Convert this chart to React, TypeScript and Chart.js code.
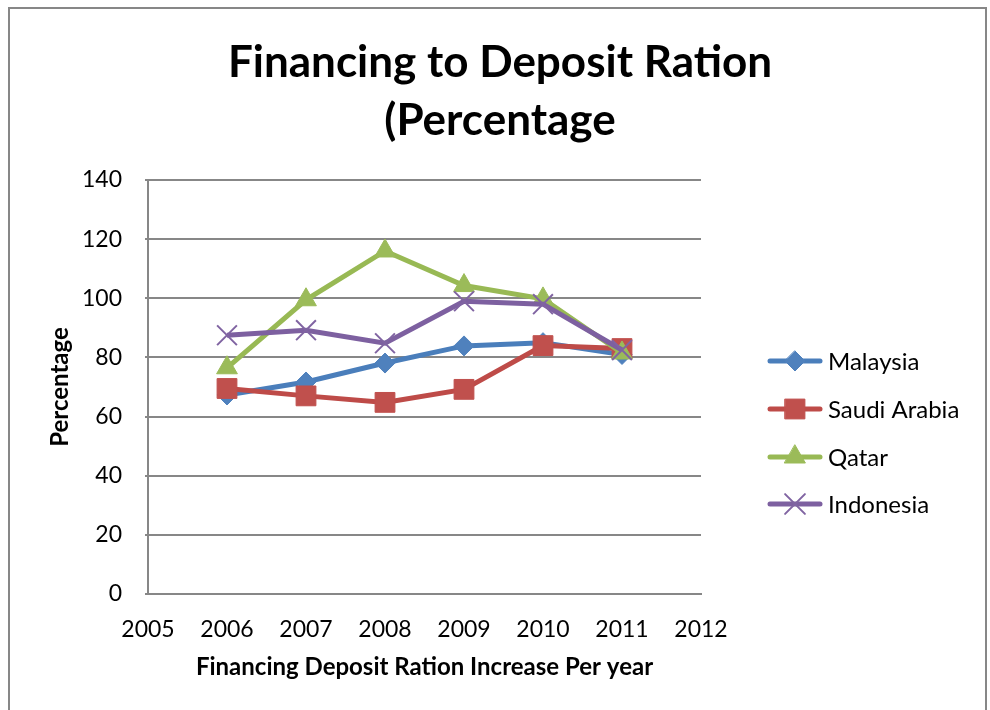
import React, { useEffect, useRef } from "react";
import { Chart, registerables } from "chart.js";

Chart.register(...registerables);

const years = [2006, 2007, 2008, 2009, 2010, 2011];
const malaysia = [67.3, 71.7, 78.1, 83.9, 85.0, 81.0];
const saudiArabia = [69.5, 67.0, 64.8, 69.2, 84.0, 83.0];
const qatar = [76.5, 99.5, 116.0, 104.3, 99.8, 81.5];
const indonesia = [87.5, 89.2, 84.8, 99.0, 98.0, 82.5];

const seriesNames = ["Malaysia", "Saudi Arabia", "Qatar", "Indonesia"];
const titleLines = ["Financing to Deposit Ration", "(Percentage"];
const xTitle = "Financing Deposit Ration Increase Per year";
const yTitle = "Percentage";

const FONT = "Lato, 'Open Sans', sans-serif";

function drawMarker(ctx: CanvasRenderingContext2D, style: string, x: number, y: number, r: number, fill: string, stroke: string, bw: number) {
  ctx.save();
  ctx.fillStyle = fill;
  ctx.strokeStyle = stroke;
  ctx.lineWidth = bw;
  ctx.beginPath();
  if (style === "rectRot") {
    ctx.moveTo(x, y - r);
    ctx.lineTo(x + r, y);
    ctx.lineTo(x, y + r);
    ctx.lineTo(x - r, y);
    ctx.closePath();
    ctx.fill();
    ctx.stroke();
  } else if (style === "rect") {
    const s = r * Math.SQRT1_2;
    ctx.rect(x - s, y - s, 2 * s, 2 * s);
    ctx.fill();
    ctx.stroke();
  } else if (style === "triangle") {
    const w = r * Math.sqrt(3) / 2;
    ctx.moveTo(x, y - r);
    ctx.lineTo(x + w, y + r / 2);
    ctx.lineTo(x - w, y + r / 2);
    ctx.closePath();
    ctx.fill();
    ctx.stroke();
  } else if (style === "crossRot") {
    const d = r * Math.SQRT1_2;
    ctx.moveTo(x - d, y - d);
    ctx.lineTo(x + d, y + d);
    ctx.moveTo(x + d, y - d);
    ctx.lineTo(x - d, y + d);
    ctx.stroke();
  }
  ctx.restore();
}

const decorPlugin = {
  id: "decor",
  afterDraw(chart: any) {
    const ctx = chart.ctx as CanvasRenderingContext2D;
    ctx.save();
    // title
    ctx.fillStyle = "#000";
    ctx.font = `bold 44px ${FONT}`;
    ctx.textAlign = "center";
    ctx.textBaseline = "alphabetic";
    ctx.fillText(titleLines[0], 500, 77);
    ctx.fillText(titleLines[1], 500, 135);
    // legend
    const ys = [361, 409, 457, 504];
    chart.data.datasets.forEach((ds: any, i: number) => {
      const y = ys[i];
      ctx.strokeStyle = ds.borderColor;
      ctx.lineWidth = ds.borderWidth;
      ctx.lineCap = "round";
      ctx.beginPath();
      ctx.moveTo(770, y);
      ctx.lineTo(820, y);
      ctx.stroke();
      drawMarker(ctx, ds.pointStyle, 795, y, ds.pointRadius, ds.pointBackgroundColor, ds.pointBorderColor, ds.pointBorderWidth);
      ctx.fillStyle = "#000";
      ctx.font = `24px ${FONT}`;
      ctx.textAlign = "left";
      ctx.textBaseline = "middle";
      ctx.fillText(ds.label, 828, y + 1);
    });
    ctx.restore();
  },
};

export default function App() {
  const ref = useRef<HTMLCanvasElement | null>(null);
  useEffect(() => {
    if (!ref.current) return;
    const mk = (vals: number[]) => vals.map((v, i) => ({ x: years[i], y: v }));
    const chart = new Chart(ref.current, {
      type: "line",
      data: {
        datasets: [
          {
            label: seriesNames[0],
            data: mk(malaysia),
            borderColor: "#4A7EBB",
            borderWidth: 5,
            pointStyle: "rectRot",
            pointRadius: 10,
            pointBackgroundColor: "#4F81BD",
            pointBorderColor: "#4F81BD",
            pointBorderWidth: 1,
            order: 4,
          },
          {
            label: seriesNames[1],
            data: mk(saudiArabia),
            borderColor: "#BE4B48",
            borderWidth: 5,
            pointStyle: "rect",
            pointRadius: 14,
            pointBackgroundColor: "#C0504D",
            pointBorderColor: "#C0504D",
            pointBorderWidth: 1,
            order: 3,
          },
          {
            label: seriesNames[2],
            data: mk(qatar),
            borderColor: "#98B954",
            borderWidth: 5,
            pointStyle: "triangle",
            pointRadius: 12,
            pointBackgroundColor: "#9BBB59",
            pointBorderColor: "#9BBB59",
            pointBorderWidth: 1,
            order: 2,
          },
          {
            label: seriesNames[3],
            data: mk(indonesia),
            borderColor: "#7D60A0",
            borderWidth: 5,
            pointStyle: "crossRot",
            pointRadius: 14,
            pointBackgroundColor: "#8064A2",
            pointBorderColor: "#8064A2",
            pointBorderWidth: 2,
            order: 1,
          },
        ] as any,
      },
      options: {
        animation: false,
        responsive: false,
        devicePixelRatio: 1,
        layout: { padding: { left: 40, top: 180, right: 289, bottom: 16 } },
        plugins: { legend: { display: false }, title: { display: false }, tooltip: { enabled: false } },
        elements: { line: { tension: 0 } },
        scales: {
          x: {
            type: "linear",
            min: 2005,
            max: 2012,
            ticks: { stepSize: 1, padding: 14, color: "#000", font: { family: FONT, size: 23 }, callback: (v: any) => String(v) },
            grid: { display: false },
            border: { display: true, color: "#878787", width: 2 },
            title: { display: true, text: xTitle, color: "#000", font: { family: FONT, size: 24, weight: "bold" }, padding: { top: 0, bottom: 12 } },
            afterFit: (s: any) => { s.height = 100; },
          },
          y: {
            min: 0,
            max: 140,
            ticks: { stepSize: 20, padding: 23, color: "#000", font: { family: FONT, size: 23 } },
            grid: { color: "#878787", lineWidth: 2, tickLength: 3 },
            border: { display: true, color: "#878787", width: 2 },
            title: { display: true, text: yTitle, color: "#000", font: { family: FONT, size: 24, weight: "bold" }, padding: { top: 6, bottom: 0 } },
            afterFit: (s: any) => { s.width = 108; },
          },
        },
      } as any,
      plugins: [decorPlugin],
    });
    return () => chart.destroy();
  }, []);
  return (
    <div style={{ position: "absolute", left: 0, top: 0, width: 990, height: 710, overflow: "hidden", background: "#fff" }}>
      <canvas ref={ref} width={990} height={710} style={{ position: "absolute", left: 0, top: 0, width: 990, height: 710 }} />
      <div style={{ position: "absolute", left: 8, top: 7, width: 979, height: 740, border: "2px solid #878787", boxSizing: "border-box", pointerEvents: "none" }} />
    </div>
  );
}
